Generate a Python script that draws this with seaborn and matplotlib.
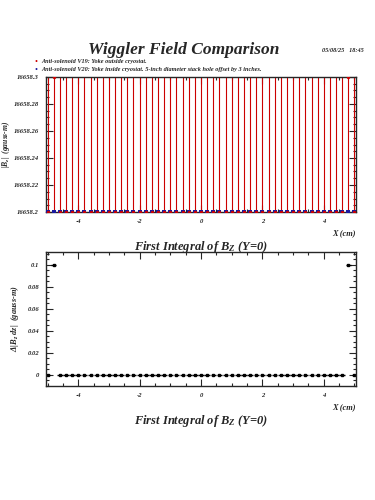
import numpy as np
import pandas as pd
import matplotlib
matplotlib.use("Agg")
import matplotlib.pyplot as plt
import seaborn as sns
from matplotlib.ticker import AutoMinorLocator, FixedLocator

# sample positions (cm), step 0.2 from -5.0 to 5.0
x_cm = [-5.0, -4.8, -4.6, -4.4, -4.2, -4.0, -3.8, -3.6, -3.4, -3.2, -3.0,
        -2.8, -2.6, -2.4, -2.2, -2.0, -1.8, -1.6, -1.4, -1.2, -1.0,
        -0.8, -0.6, -0.4, -0.2, 0.0, 0.2, 0.4, 0.6, 0.8, 1.0,
        1.2, 1.4, 1.6, 1.8, 2.0, 2.2, 2.4, 2.6, 2.8, 3.0,
        3.2, 3.4, 3.6, 3.8, 4.0, 4.2, 4.4, 4.6, 4.8, 5.0]
n = len(x_cm)
# first integral |B_z| for the two yoke configurations (gauss-m)
bz_v19 = [16658.2] * n
bz_v19[1] = 16658.3
bz_v19[-2] = 16658.3
bz_v20 = [16658.2] * n
# error bars on V19 run well outside the plotted range
err_v19 = [0.2] * n
# difference V19 - V20
delta = [0.0] * n
delta[1] = 0.1
delta[-2] = 0.1
delta_xerr = [0.09] * n

legend_v19 = "Anti-solenoid V19: Yoke outside cryostat."
legend_v20 = "Anti-solenoid V20: Yoke inside cryostat. 5-inch diameter stack hole offset by 3 inches."

df = pd.DataFrame({"x": x_cm, "v19": bz_v19, "v20": bz_v20, "d": delta})

sns.set_style("ticks")
plt.rcParams["font.family"] = ["Liberation Serif", "DejaVu Serif"]
plt.rcParams["mathtext.fontset"] = "custom"
plt.rcParams["mathtext.it"] = "Liberation Serif:italic:bold"
plt.rcParams["mathtext.rm"] = "Liberation Serif:italic:bold"

fig = plt.figure(figsize=(3.75, 5), dpi=100)
fig.patch.set_facecolor("white")
ax1 = fig.add_axes([0.1227, 0.576, 0.8267, 0.27])
ax2 = fig.add_axes([0.1227, 0.228, 0.8267, 0.268])

fs = dict(style="italic", weight="bold")

# top panel
ax1.errorbar(df["x"], df["v19"], yerr=err_v19, fmt="none", ecolor="#cc0000", elinewidth=0.8)
sns.scatterplot(data=df, x="x", y="v20", ax=ax1, color="#1a1aa0", marker="s", s=6,
                linewidth=0, legend=False, zorder=3)
sns.scatterplot(data=df, x="x", y="v19", ax=ax1, color="#cc0000", marker="o", s=6,
                linewidth=0, legend=False, zorder=4)
ax1.set_ylim(16658.2, 16658.3)
ax1.yaxis.set_major_locator(FixedLocator([16658.2, 16658.22, 16658.24, 16658.26, 16658.28, 16658.3]))
ax1.set_yticklabels(["16658.2", "16658.22", "16658.24", "16658.26", "16658.28", "16658.3"])
ax1.set_ylabel("|B$_z$|  (gauss-m)", fontsize=5.5, **fs)
ax1.yaxis.set_label_coords(-0.109, 0.5)

# bottom panel
ax2.errorbar(df["x"], df["d"], xerr=delta_xerr, fmt="s", color="black", ms=1.8,
             elinewidth=1.0, capsize=0)
sns.scatterplot(data=df, x="x", y="d", ax=ax2, color="black", marker="s", s=3,
                linewidth=0, legend=False, zorder=3)
ax2.set_ylim(-0.01, 0.1115)
ax2.yaxis.set_major_locator(FixedLocator([0, 0.02, 0.04, 0.06, 0.08, 0.1]))
ax2.set_yticklabels(["0", "0.02", "0.04", "0.06", "0.08", "0.1"])
ax2.set_ylabel("Δ|B$_z$ dz|  (gauss-m)", fontsize=6, **fs)
ax2.yaxis.set_label_coords(-0.08, 0.5)

for ax in (ax1, ax2):
    ax.set_xlim(-5.05, 5.05)
    ax.xaxis.set_major_locator(FixedLocator([-4, -2, 0, 2, 4]))
    ax.set_xticklabels(["-4", "-2", "0", "2", "4"])
    ax.xaxis.set_minor_locator(AutoMinorLocator(4))
    ax.yaxis.set_minor_locator(AutoMinorLocator(4))
    ax.tick_params(which="both", direction="in", top=True, right=True, width=0.8,
                   labelsize=4.8, pad=5)
    ax.tick_params(which="major", length=5)
    ax.tick_params(which="minor", length=2.5)
    for lab in ax.get_xticklabels() + ax.get_yticklabels():
        lab.set_style("italic")
        lab.set_weight("bold")
    for sp in ax.spines.values():
        sp.set_linewidth(1.0)
        sp.set_visible(True)
    ax.set_xlabel("")
    ax.text(1.0, -0.13, "X (cm)", transform=ax.transAxes, ha="right", va="top",
            fontsize=6, **fs)
    ax.text(0.5, -0.2, "First Integral of B$_Z$ (Y=0)", transform=ax.transAxes,
            ha="center", va="top", fontsize=9, **fs)

fig.text(0.49, 0.9, "Wiggler Field Comparison", ha="center", va="center", fontsize=12.5, **fs)
fig.text(0.97, 0.9, "05/08/25   18:45", ha="right", va="center", fontsize=4.5, **fs)
fig.text(0.095, 0.876, "•", color="#cc0000", ha="center", va="center", fontsize=6)
fig.text(0.11, 0.876, legend_v19, ha="left", va="center", fontsize=4.5, **fs)
fig.text(0.095, 0.86, "•", color="#1a1aa0", ha="center", va="center", fontsize=6)
fig.text(0.11, 0.86, legend_v20, ha="left", va="center", fontsize=4.5, **fs)

fig.savefig("out.png", dpi=100, facecolor="white")
